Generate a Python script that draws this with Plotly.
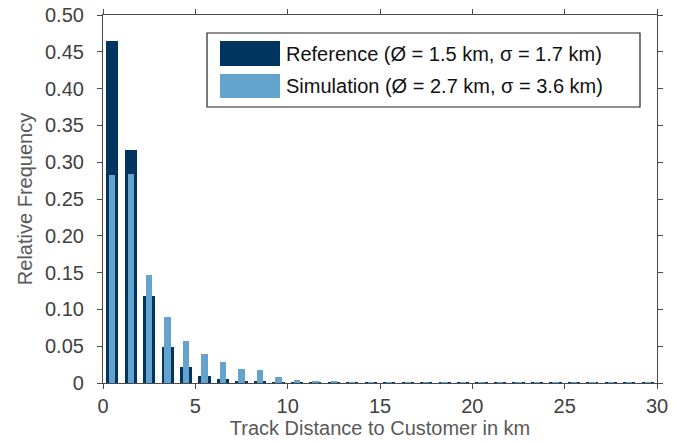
import plotly.graph_objects as go

bin_centers = [i + 0.5 for i in range(30)]
reference = [0.465, 0.316, 0.118, 0.049, 0.022, 0.0095, 0.005, 0.003, 0.0015, 0.0008,
             0.0006, 0.0005, 0.0004, 0.0004, 0.0003, 0.0003, 0.0003, 0.0003, 0.0002, 0.0002,
             0.0002, 0.0002, 0.0002, 0.0002, 0.0002, 0.0002, 0.0002, 0.0002, 0.0002, 0.0002]
simulation = [0.282, 0.284, 0.147, 0.090, 0.057, 0.039, 0.0285, 0.019, 0.0177, 0.008,
              0.004, 0.0022, 0.002, 0.0012, 0.001, 0.0009, 0.0008, 0.0007, 0.0007, 0.0006,
              0.0006, 0.0006, 0.0006, 0.0005, 0.0005, 0.0005, 0.0005, 0.0005, 0.0005, 0.0005]
legend_labels = ["Reference (Ø = 1.5 km, σ = 1.7 km)", "Simulation (Ø = 2.7 km, σ = 3.6 km)"]
x_ticks = [0, 5, 10, 15, 20, 25, 30]
y_ticks = [0, 0.05, 0.10, 0.15, 0.20, 0.25, 0.30, 0.35, 0.40, 0.45, 0.50]
y_tick_text = ["0", "0.05", "0.10", "0.15", "0.20", "0.25", "0.30", "0.35", "0.40", "0.45", "0.50"]

dark = "#00355f"
light = "#64a3cc"
font = "Liberation Sans, Arial, sans-serif"
grey = "#4a4a4a"

fig = go.Figure()
fig.add_trace(go.Bar(x=bin_centers, y=reference, width=0.66, marker=dict(color=dark, line=dict(width=0)),
                     name=legend_labels[0], showlegend=False))
fig.add_trace(go.Bar(x=bin_centers, y=simulation, width=0.34, marker=dict(color=light, line=dict(width=0)),
                     name=legend_labels[1], showlegend=False))

axis_common = dict(showline=True, linecolor=grey, linewidth=1.2, mirror="ticks", ticks="outside",
                   ticklen=5, tickcolor=grey, showgrid=False, zeroline=False, automargin=False,
                   tickfont=dict(family=font, size=20, color="#404040"))
fig.update_xaxes(range=[0, 30], tickvals=x_ticks, **axis_common,
                 title=dict(text="Track Distance to Customer in km", font=dict(family=font, size=20, color="#595959"), standoff=0))
fig.update_yaxes(range=[0, 0.5], tickvals=y_ticks, ticktext=y_tick_text, **axis_common,
                 ticklabelstandoff=9,
                 title=dict(text="Relative Frequency", font=dict(family=font, size=20, color="#595959"), standoff=6))

# manual legend with large swatches (paper coords)
L, R, T, B = 103, 657, 15, 383
def px(x): return (x - L) / (R - L)
def py(y): return (B - y) / (B - T)

shapes = [
    dict(type="rect", xref="paper", yref="paper", x0=px(207), x1=px(640), y0=py(107), y1=py(33),
         line=dict(color="#222222", width=1.2), fillcolor="white", layer="above"),
    dict(type="rect", xref="paper", yref="paper", x0=px(220), x1=px(280), y0=py(66), y1=py(41),
         line=dict(width=0), fillcolor=dark, layer="above"),
    dict(type="rect", xref="paper", yref="paper", x0=px(220), x1=px(280), y0=py(98), y1=py(74),
         line=dict(width=0), fillcolor=light, layer="above"),
]
annotations = [
    dict(xref="paper", yref="paper", x=px(284), y=py(53.5), text=legend_labels[0], showarrow=False,
         xanchor="left", yanchor="middle", font=dict(family=font, size=20, color="#111111")),
    dict(xref="paper", yref="paper", x=px(284), y=py(86), text=legend_labels[1], showarrow=False,
         xanchor="left", yanchor="middle", font=dict(family=font, size=20, color="#111111")),
]

fig.update_layout(width=683, height=443, barmode="overlay", plot_bgcolor="white", paper_bgcolor="white",
                  margin=dict(l=L, r=683 - R, t=T, b=443 - B, autoexpand=False), shapes=shapes, annotations=annotations,
                  bargap=0)
fig.write_html("out.html")
